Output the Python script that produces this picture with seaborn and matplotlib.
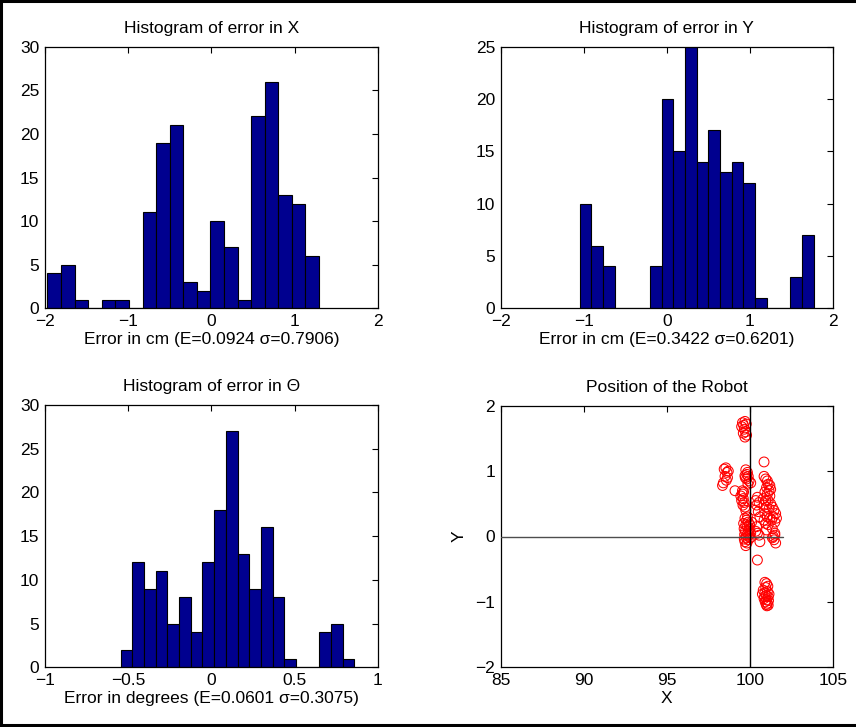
import numpy as np
import pandas as pd
import matplotlib
matplotlib.use("Agg")
import matplotlib.pyplot as plt
from matplotlib import ticker
from matplotlib.lines import Line2D
import seaborn as sns

# ---- histogram data: 20 equal bins between lo and hi, counts per bin ----
x_err_range = (-1.970, 1.295)
x_err_counts = [4, 5, 1, 0, 1, 1, 0, 11, 19, 21, 3, 2, 10, 7, 1, 22, 26, 13, 12, 6]

y_err_range = (-1.048, 1.767)
y_err_counts = [10, 6, 4, 0, 0, 0, 4, 20, 15, 25, 14, 17, 13, 14, 12, 1, 0, 0, 3, 7]

th_err_range = (-0.545, 0.860)
th_err_counts = [2, 12, 9, 11, 5, 8, 4, 12, 18, 27, 13, 9, 16, 8, 1, 0, 0, 4, 5, 1]

hist_titles = ["Histogram of error in X", "Histogram of error in Y", "Histogram of error in \u0398"]
hist_xlabels = ["Error in cm (E=0.0924 \u03c3=0.7906)",
                "Error in cm (E=0.3422 \u03c3=0.6201)",
                "Error in degrees (E=0.0601 \u03c3=0.3075)"]

# ---- robot positions ----
robot_x = [
    99.55, 99.70, 99.62, 99.78, 99.50, 99.66, 99.74, 99.60, 99.80, 99.70,
    98.45, 98.55, 98.62, 98.70, 98.50, 98.65, 98.40, 98.35, 98.58, 99.10,
    99.75, 99.85, 99.70, 99.90, 99.80, 99.95, 99.72, 99.88, 100.05, 99.82,
    99.45, 99.55, 99.60, 99.50, 99.65, 99.58, 99.70, 99.62, 99.75, 99.55,
    99.70, 99.80, 99.90, 99.75, 99.85, 99.65, 100.00, 99.72, 99.88, 99.95,
    99.68, 99.78, 99.90, 99.70, 99.82, 99.75, 100.05, 99.92, 99.62, 99.98,
    100.10, 99.85, 99.66, 99.80, 100.02,
    100.35, 100.45, 100.40, 100.55, 100.30, 100.50, 100.60, 100.45, 100.35, 100.55,
    100.60, 100.40, 100.85, 100.45,
    100.85, 100.95, 101.05, 101.10, 101.20, 101.00, 101.15, 101.25, 100.90, 101.05,
    101.20, 100.80, 100.95, 101.10, 101.25, 100.85, 101.00, 101.15, 101.35, 101.45,
    101.55, 101.40, 101.60, 101.50, 101.30, 100.90, 101.05, 101.20, 100.95, 101.10,
    101.35, 101.50, 101.40, 101.45, 101.55, 101.50, 101.35, 100.85, 101.00,
    100.90, 101.00, 100.95, 101.08, 100.80, 100.90, 101.05, 100.75, 100.98, 101.10,
    100.85, 101.00, 101.12, 100.92, 101.05, 100.98, 101.10, 101.02, 100.88, 101.15,
]
robot_y = [
    1.74, 1.76, 1.70, 1.72, 1.68, 1.64, 1.60, 1.58, 1.55, 1.52,
    1.03, 1.05, 0.98, 1.00, 0.92, 0.90, 0.82, 0.78, 0.86, 0.70,
    1.02, 0.98, 0.93, 0.92, 0.88, 0.85, 0.90, 0.80, 0.82, 0.95,
    0.62, 0.65, 0.58, 0.55, 0.52, 0.48, 0.45, 0.68, 0.40, 0.70,
    0.28, 0.25, 0.22, 0.18, 0.15, 0.12, 0.12, 0.08, 0.05, 0.02,
    0.03, -0.02, -0.05, -0.08, -0.10, -0.14, 0.05, 0.10, 0.20, 0.18,
    0.22, 0.30, -0.04, 0.02, -0.02,
    0.55, 0.60, 0.48, 0.52, 0.40, 0.38, 0.30, 0.05, 0.08, 0.02,
    -0.08, 0.15, 1.14, -0.36,
    0.92, 0.88, 0.85, 0.80, 0.78, 0.75, 0.70, 0.72, 0.68, 0.65,
    0.62, 0.58, 0.55, 0.55, 0.50, 0.48, 0.45, 0.42, 0.45, 0.40,
    0.35, 0.30, 0.28, 0.22, 0.25, 0.35, 0.30, 0.28, 0.20, 0.18,
    0.12, 0.05, 0.00, -0.05, -0.10, 0.02, -0.02, 0.25, 0.10,
    -0.70, -0.72, -0.78, -0.76, -0.82, -0.86, -0.84, -0.88, -0.90, -0.92,
    -0.95, -0.97, -0.98, -1.00, -1.02, -1.04, -1.05, -1.06, -0.92, -0.88,
]

# ---- style ----
FS = 12.5
sns.set_theme(style="white")
plt.rcParams["font.family"] = ["Liberation Sans", "DejaVu Sans"]
plt.rcParams.update({
    "font.size": FS,
    "axes.titlesize": FS,
    "axes.labelsize": FS,
    "xtick.labelsize": FS,
    "ytick.labelsize": FS,
    "axes.unicode_minus": True,
    "xtick.direction": "in",
    "ytick.direction": "in",
    "xtick.top": True,
    "ytick.right": True,
    "xtick.major.size": 4,
    "ytick.major.size": 4,
    "xtick.major.width": 0.8,
    "ytick.major.width": 0.8,
    "xtick.major.pad": 4,
    "ytick.major.pad": 4,
    "axes.edgecolor": "black",
    "axes.linewidth": 0.9,
    "text.color": "black",
    "axes.labelcolor": "black",
    "xtick.color": "black",
    "ytick.color": "black",
})

W, H = 856, 727
fig = plt.figure(figsize=(W / 100, H / 100), dpi=100)
fig.patch.set_facecolor("white")


def px_axes(left, top, right, bottom):
    return fig.add_axes([left / W, 1 - bottom / H, (right - left) / W, (bottom - top) / H])


def tick_fmt(v, _pos):
    return ("%g" % v).replace("-", "\u2212")


ax_x = px_axes(45, 46.7, 377.7, 308.3)
ax_y = px_axes(500.7, 46.7, 833, 308.3)
ax_t = px_axes(45, 405, 377.7, 667.3)
ax_p = px_axes(500.7, 405.7, 833, 667.3)

bar_color = "#00008F"
hist_specs = [
    (ax_x, x_err_range, x_err_counts, (-2, 2), np.arange(-2, 2.01, 1), 30),
    (ax_y, y_err_range, y_err_counts, (-2, 2), np.arange(-2, 2.01, 1), 25),
    (ax_t, th_err_range, th_err_counts, (-1, 1), np.arange(-1, 1.01, 0.5), 30),
]

for i, (ax, (lo, hi), counts, xlim, xticks, ymax) in enumerate(hist_specs):
    edges = np.linspace(lo, hi, len(counts) + 1)
    centers = 0.5 * (edges[:-1] + edges[1:])
    df = pd.DataFrame({"err": centers, "n": np.asarray(counts, dtype=float)})
    sns.histplot(data=df, x="err", weights="n", bins=edges.tolist(), ax=ax,
                 color=bar_color, alpha=1, edgecolor="black", linewidth=0.8)
    ax.set_xlim(*xlim)
    ax.set_ylim(0, ymax)
    ax.set_xticks(xticks)
    ax.set_yticks(np.arange(0, ymax + 0.1, 5))
    ax.xaxis.set_major_formatter(ticker.FuncFormatter(tick_fmt))
    ax.yaxis.set_major_formatter(ticker.FuncFormatter(tick_fmt))
    ax.set_title(hist_titles[i], pad=10)
    ax.set_xlabel(hist_xlabels[i], labelpad=2)
    ax.set_ylabel("")

# ---- robot position ----
pos = pd.DataFrame({"X": robot_x, "Y": robot_y})
sns.scatterplot(data=pos, x="X", y="Y", ax=ax_p, marker="o", s=50,
                facecolor="none", edgecolor="red", linewidth=0.75, zorder=2)
ax_p.plot([85, 102], [0, 0], color="0.3", lw=1.0, zorder=3)
ax_p.plot([100, 100], [-2, 2], color="black", lw=1.0, zorder=3)
ax_p.set_xlim(85, 105)
ax_p.set_ylim(-2, 2)
ax_p.set_xticks(np.arange(85, 106, 5))
ax_p.set_yticks(np.arange(-2, 2.1, 1))
ax_p.xaxis.set_major_formatter(ticker.FuncFormatter(tick_fmt))
ax_p.yaxis.set_major_formatter(ticker.FuncFormatter(tick_fmt))
ax_p.set_title("Position of the Robot", pad=10)
ax_p.set_xlabel("X", labelpad=2)
ax_p.set_ylabel("Y", labelpad=6)

for ax in (ax_x, ax_y, ax_t, ax_p):
    for sp in ax.spines.values():
        sp.set_visible(True)
        sp.set_color("black")

# figure frame on the left, top and bottom edges
x0, y_top, y_bot = 1.3 / W, 1 - 1.3 / H, 1 - 724.5 / H
for xs, ys in (([x0, x0], [y_bot, y_top]), ([x0, 1.0], [y_top, y_top]), ([x0, 1.0], [y_bot, y_bot])):
    fig.add_artist(Line2D(xs, ys, transform=fig.transFigure, color="black",
                          linewidth=2.2, solid_capstyle="projecting"))

fig.savefig("out.png", dpi=100, facecolor="white")
